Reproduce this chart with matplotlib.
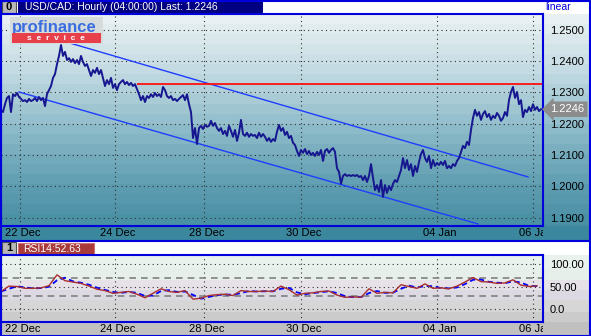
import numpy as np
import pandas as pd
import matplotlib
matplotlib.use('Agg')
import matplotlib.pyplot as plt
from matplotlib.patches import Rectangle
from matplotlib.transforms import Bbox, TransformedBbox

plt.rcParams['font.family'] = ['Liberation Sans', 'DejaVu Sans']

# hourly USD/CAD, trading hours only (bar 0 = 21 Dec late)
price = [
    1.2244, 1.2237, 1.2262, 1.2282, 1.2288, 1.2237, 1.2294, 1.2288, 1.2298, 1.2285, 1.2279, 1.2272,
    1.2275, 1.2269, 1.2279, 1.2272, 1.2275, 1.2282, 1.2272, 1.2285, 1.2275, 1.2282, 1.2256, 1.2294,
    1.2307, 1.2320, 1.2346, 1.2358, 1.2390, 1.2416, 1.2451, 1.2416, 1.2429, 1.2403, 1.2409, 1.2397,
    1.2406, 1.2393, 1.2403, 1.2390, 1.2416, 1.2397, 1.2384, 1.2390, 1.2371, 1.2352, 1.2371, 1.2362,
    1.2378, 1.2358, 1.2371, 1.2346, 1.2320, 1.2339, 1.2326, 1.2346, 1.2314, 1.2326, 1.2307, 1.2326,
    1.2333, 1.2339, 1.2326, 1.2333, 1.2323, 1.2330, 1.2320, 1.2326, 1.2310, 1.2294, 1.2275, 1.2288,
    1.2269, 1.2288, 1.2282, 1.2294, 1.2285, 1.2298, 1.2288, 1.2294, 1.2285, 1.2317, 1.2307, 1.2288,
    1.2282, 1.2288, 1.2275, 1.2279, 1.2272, 1.2279, 1.2285, 1.2291, 1.2275, 1.2294, 1.2262, 1.2237,
    1.2154, 1.2186, 1.2135, 1.2186, 1.2193, 1.2183, 1.2196, 1.2190, 1.2193, 1.2209, 1.2193, 1.2202,
    1.2186, 1.2177, 1.2186, 1.2167, 1.2177, 1.2161, 1.2193, 1.2177, 1.2158, 1.2180, 1.2145, 1.2171,
    1.2212, 1.2167, 1.2161, 1.2171, 1.2158, 1.2167, 1.2161, 1.2164, 1.2154, 1.2171, 1.2158, 1.2167,
    1.2158, 1.2145, 1.2154, 1.2142, 1.2151, 1.2145, 1.2174, 1.2196, 1.2177, 1.2186, 1.2164, 1.2174,
    1.2154, 1.2161, 1.2139, 1.2132, 1.2113, 1.2097, 1.2116, 1.2107, 1.2119, 1.2103, 1.2113, 1.2100,
    1.2107, 1.2097, 1.2110, 1.2100, 1.2116, 1.2081, 1.2113, 1.2119, 1.2107, 1.2116, 1.2122, 1.2110,
    1.2058, 1.2046, 1.2008, 1.2033, 1.2039, 1.2033, 1.2036, 1.2033, 1.2036, 1.2033, 1.2036, 1.2030,
    1.2033, 1.2020, 1.2033, 1.2014, 1.2033, 1.2071, 1.2027, 1.1988, 1.2004, 1.1982, 1.2020, 1.1966,
    1.2004, 1.1979, 1.2001, 1.1988, 1.2008, 1.2020, 1.2014, 1.2033, 1.2052, 1.2090, 1.2058, 1.2084,
    1.2052, 1.2071, 1.2033, 1.2065, 1.2046, 1.2078, 1.2103, 1.2116, 1.2090, 1.2078, 1.2097, 1.2058,
    1.2084, 1.2065, 1.2075, 1.2068, 1.2078, 1.2068, 1.2081, 1.2058, 1.2065, 1.2058, 1.2071, 1.2065,
    1.2081, 1.2090, 1.2110, 1.2129, 1.2122, 1.2142, 1.2132, 1.2180, 1.2218, 1.2244, 1.2225, 1.2237,
    1.2212, 1.2231, 1.2240, 1.2221, 1.2231, 1.2212, 1.2225, 1.2218, 1.2234, 1.2225, 1.2209, 1.2218,
    1.2237, 1.2225, 1.2275, 1.2301, 1.2317, 1.2282, 1.2301, 1.2262, 1.2275, 1.2221, 1.2244, 1.2237,
    1.2253, 1.2240, 1.2262, 1.2244, 1.2253, 1.2240, 1.2246,
]
last_price = 1.2246

date_labels = ['22 Dec', '24 Dec', '28 Dec', '30 Dec', '04 Jan', '06 Jan']
date_bars = [9.25, 57, 101.5, 150, 218, 266]
price_ticks = [1.19, 1.20, 1.21, 1.22, 1.23, 1.24, 1.25]

# trend channel drawn by hand on the chart: (bars, prices)
upper_bars, upper_prices = [34.5, 263.5], [1.2457, 1.2030]
lower_bars, lower_prices = [9, 238.5], [1.2301, 1.1880]
resistance = 1.2326
resistance_from = 68

# RSI(14), one reading every 4 bars
rsi_step = 4
rsi = [40, 52, 51, 47, 47, 48, 53, 77, 64, 61, 58, 52, 45, 42, 36, 38, 40, 34, 26, 36,
       46, 40, 38, 42, 23, 25, 31, 33, 34, 31, 42, 40, 40, 41, 40, 52, 44, 32, 36, 37,
       40, 41, 32, 27, 28, 27, 46, 36, 38, 37, 55, 51, 47, 57, 47, 48, 46, 52, 61, 71,
       62, 61, 58, 59, 66, 54, 51, 52.63]
rsi_ticks = [0, 50, 100]
rsi_tick_labels = ['0.0', '50.00', '100.00']
rsi_levels = [30, 70]

W, H = 591, 336
FRAME = '#0000dd'
DOTS = (0, (1, 3))
n_bars = len(price)


def px_rect(left, top, right, bottom):
    return [left / W, 1 - bottom / H, (right - left) / W, (bottom - top) / H]


fig = plt.figure(figsize=(W / 100, H / 100), dpi=100)
fig.patch.set_facecolor('white')

bg = fig.add_axes([0, 0, 1, 1])
bg.axis('off')

# banded teal gradient behind the price panel
stop_y = [14, 40, 70, 100, 130, 160, 190, 226]
stop_c = np.array([(236, 243, 245), (218, 232, 236), (196, 219, 227), (168, 203, 214),
                   (140, 186, 200), (114, 170, 187), (92, 155, 175), (72, 143, 164)]) / 255
rows = np.arange(14, 226)
band = (rows - 14) // 10 * 10 + 19
grad = np.stack([np.interp(band, stop_y, stop_c[:, k]) for k in range(3)], axis=1)
bg.imshow(grad[:, None, :], extent=[0, W, 226, 14], aspect='auto', interpolation='nearest')
bg.add_patch(Rectangle((0, 226), W, 14, fc=(58 / 255, 135 / 255, 158 / 255), ec='none'))

# RSI panel bands
for top, bot, c in [(255, 268, '#e9f2ec'), (268, 280, '#e6efe9'), (280, 290, '#e6e2e8'),
                    (290, 300, '#ddd9e2'), (300, 312, '#d6d6d6'), (312, 322, '#cbcbcb'),
                    (322, 336, '#c0c0c0')]:
    bg.add_patch(Rectangle((0, top), W, bot - top, fc=c, ec='none'))

# header bars
bg.add_patch(Rectangle((18, 1), 245, 12, fc='#000080', ec='none'))
bg.text(25, 7.5, 'USD/CAD: Hourly (04:00:00) Last: 1.2246', color='white',
        fontsize=7.5, va='center', ha='left')
bg.text(545, 7, 'linear', color='#0000dd', fontsize=7.5, va='center', ha='left')
for y0, lbl in [(1, '0'), (242, '1')]:
    bg.add_patch(Rectangle((2, y0), 14, 12, fc='#b8b8b8', ec='#505050', lw=0.8))
    bg.text(9, y0 + 6.3, lbl, color='black', fontsize=8, fontweight='bold',
            va='center', ha='center')
bg.add_patch(Rectangle((18, 243), 76, 11, fc='#a83a3a', ec='#d07070', lw=0.8))
bg.text(23, 248.8, 'RSI14:52.63', color='white', fontsize=7.5, va='center', ha='left')

# outer frame and separators
for xs, ys in [([0.5, 0.5], [0, H]), ([589.5, 589.5], [0, H]), ([0, W], [0.5, 0.5]),
               ([0, W], [335.5, 335.5]), ([0, W], [240.5, 240.5])]:
    bg.plot(xs, ys, color=FRAME, lw=1.5)

bg.set_xlim(0, W)
bg.set_ylim(H, 0)

clip = TransformedBbox(Bbox.from_extents(0, 0, 543 / W, 1), fig.transFigure)

# ---- price panel ----
ax = fig.add_axes(px_rect(1, 14, 543, 226))
ax.patch.set_alpha(0)
ax.set_xlim(0, n_bars)
ax.set_ylim(1.18735, 1.25498)
for p in price_ticks:
    ax.axhline(p, color='#303030', lw=0.8, ls=DOTS)
for b in date_bars:
    ax.axvline(b, color='#303030', lw=0.8, ls=DOTS)
ax.plot(upper_bars, upper_prices, color='#1f3dff', lw=1)
ax.plot(lower_bars, lower_prices, color='#1f3dff', lw=1)
ax.hlines(resistance, resistance_from, n_bars, color='#ff1010', lw=1.3)
ax.plot(np.arange(n_bars), price, color='#161690', lw=1.4)

ax.set_xticks([])
ax.yaxis.tick_right()
ax.set_yticks(price_ticks)
ax.set_yticklabels([f'{p:.4f}' for p in price_ticks])
ax.tick_params(axis='y', length=0, pad=5, labelsize=8)
for s in ax.spines.values():
    s.set_color(FRAME)
    s.set_linewidth(1.5)
for lbl, b in zip(date_labels, date_bars):
    t = ax.text(b + 1.5, -0.034, lbl, transform=ax.get_xaxis_transform(),
                ha='center', va='center', fontsize=8, color='black')
    t.set_clip_box(clip)
    t.set_clip_on(True)
ax.text(1.014, last_price, f'{last_price:.4f}', transform=ax.get_yaxis_transform(),
        ha='left', va='center', fontsize=8, color='white', zorder=5,
        bbox=dict(boxstyle='larrow,pad=0.25', fc='#8c8c8c', ec='none'))

# logo
ax.add_patch(Rectangle((0.017, 0.86), 0.172, 0.125, transform=ax.transAxes,
                       fc='#d6dcdc', ec='none', zorder=4))
ax.text(0.02, 0.935, 'profinance', transform=ax.transAxes, fontsize=12,
        fontweight='bold', color='#3a6ee0', va='center', ha='left', zorder=5)
ax.add_patch(Rectangle((0.02, 0.862), 0.165, 0.047, transform=ax.transAxes,
                       fc='#e8404a', ec='none', zorder=5))
ax.text(0.102, 0.886, 's  e  r  v  i  c  e', transform=ax.transAxes, fontsize=6,
        fontweight='bold', color='white', va='center', ha='center', zorder=6)

# ---- RSI panel ----
ax2 = fig.add_axes(px_rect(1, 255, 543, 322))
ax2.patch.set_alpha(0)
ax2.set_xlim(0, n_bars)
ax2.set_ylim(-27.8, 121.1)
for v in rsi_ticks:
    ax2.axhline(v, color='#303030', lw=0.8, ls=DOTS)
for b in date_bars:
    ax2.axvline(b, color='#303030', lw=0.8, ls=DOTS)
for v in rsi_levels:
    ax2.axhline(v, color='#808080', lw=1.2, ls=(0, (4, 3)))
rsi_x = np.arange(len(rsi)) * rsi_step
rsi_sig = pd.Series(rsi).rolling(2, min_periods=1).mean()
ax2.plot(rsi_x, rsi_sig, color='#0000ff', lw=1.3, ls=(0, (3, 2)))
ax2.plot(rsi_x, rsi, color='#a83030', lw=1)

ax2.set_xticks([])
ax2.yaxis.tick_right()
ax2.set_yticks(rsi_ticks)
ax2.set_yticklabels(rsi_tick_labels)
ax2.tick_params(axis='y', length=0, pad=5, labelsize=8)
for s in ax2.spines.values():
    s.set_color(FRAME)
    s.set_linewidth(1.5)
for lbl, b in zip(date_labels, date_bars):
    t = ax2.text(b + 1.5, -0.1, lbl, transform=ax2.get_xaxis_transform(),
                 ha='center', va='center', fontsize=8, color='black')
    t.set_clip_box(clip)
    t.set_clip_on(True)

fig.savefig('out.png', dpi=100)
